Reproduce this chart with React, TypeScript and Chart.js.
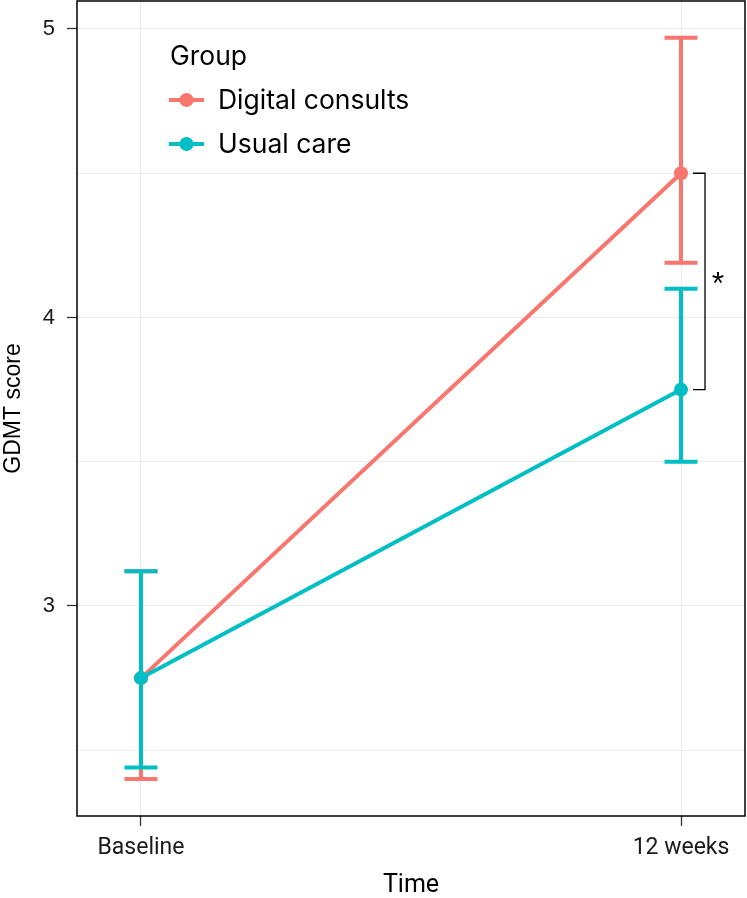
import React, { useEffect, useRef } from 'react';
import { Chart, registerables } from 'chart.js';

Chart.register(...registerables);

// ---- data ----
const timepoints = ['Baseline', '12 weeks'];
const groups = ['Digital consults', 'Usual care'];
const digitalMean = [2.75, 4.5];
const digitalLower = [2.40, 4.19];
const digitalUpper = [3.12, 4.97];
const usualMean = [2.75, 3.75];
const usualLower = [2.44, 3.50];
const usualUpper = [3.12, 4.10];
const yTickValues = [2.5, 3, 3.5, 4, 4.5, 5];
const yLabelledTicks = [3, 4, 5];
const legendTitle = 'Group';
const xTitle = 'Time';
const yTitle = 'GDMT score';
const significanceLabel = '*';

const COLORS = ['#F8766D', '#00BFC4'];
const GRID = '#EBEBEB';

const seriesMeans = [digitalMean, usualMean];
const seriesLower = [digitalLower, usualLower];
const seriesUpper = [digitalUpper, usualUpper];

export default function App() {
  const ref = useRef<HTMLCanvasElement | null>(null);

  useEffect(() => {
    const canvas = ref.current;
    if (!canvas) return;

    const errorBars = {
      id: 'errorBars',
      beforeDatasetsDraw(chart: any) {
        const { ctx, scales } = chart;
        const xs = scales.x;
        const ys = scales.y;
        ctx.save();
        ctx.lineWidth = 4;
        ctx.lineCap = 'butt';
        for (let g = 0; g < groups.length; g++) {
          ctx.strokeStyle = COLORS[g];
          for (let i = 0; i < timepoints.length; i++) {
            const x = xs.getPixelForValue(i);
            const yl = ys.getPixelForValue(seriesLower[g][i]);
            const yu = ys.getPixelForValue(seriesUpper[g][i]);
            ctx.beginPath();
            ctx.moveTo(x, yl);
            ctx.lineTo(x, yu);
            ctx.moveTo(x - 16.5, yl);
            ctx.lineTo(x + 16.5, yl);
            ctx.moveTo(x - 16.5, yu);
            ctx.lineTo(x + 16.5, yu);
            ctx.stroke();
          }
        }
        ctx.restore();
      },
    };

    const overlay = {
      id: 'overlay',
      afterDraw(chart: any) {
        const { ctx, scales, chartArea } = chart;
        const xs = scales.x;
        const ys = scales.y;
        ctx.save();
        // significance bracket
        const x12 = xs.getPixelForValue(1);
        const y1 = ys.getPixelForValue(digitalMean[1]);
        const y2 = ys.getPixelForValue(usualMean[1]);
        const bx = x12 + 24;
        ctx.strokeStyle = '#000';
        ctx.lineWidth = 1.3;
        ctx.beginPath();
        ctx.moveTo(x12 + 12, y1);
        ctx.lineTo(bx, y1);
        ctx.lineTo(bx, y2);
        ctx.lineTo(x12 + 12, y2);
        ctx.stroke();
        ctx.fillStyle = '#000';
        ctx.font = '32px "Liberation Sans"';
        ctx.textAlign = 'center';
        ctx.textBaseline = 'alphabetic';
        ctx.fillText(significanceLabel, bx + 13, (y1 + y2) / 2 + 13);

        // legend
        ctx.textAlign = 'left';
        ctx.textBaseline = 'middle';
        ctx.font = '26.5px Inter';
        ctx.fillStyle = '#000';
        ctx.fillText(legendTitle, 170, 57);
        const rows = [100, 144];
        for (let g = 0; g < groups.length; g++) {
          const y = rows[g];
          ctx.strokeStyle = COLORS[g];
          ctx.lineWidth = 4;
          ctx.beginPath();
          ctx.moveTo(169, y);
          ctx.lineTo(204, y);
          ctx.stroke();
          ctx.fillStyle = COLORS[g];
          ctx.beginPath();
          ctx.arc(186.5, y, 7, 0, Math.PI * 2);
          ctx.fill();
          ctx.fillStyle = '#000';
          ctx.fillText(groups[g], 218, y + 1);
        }

        // panel border
        ctx.strokeStyle = '#000';
        ctx.lineWidth = 1.5;
        ctx.strokeRect(chartArea.left, chartArea.top, chartArea.right - chartArea.left, chartArea.bottom - chartArea.top);
        ctx.restore();
      },
    };

    const datasets = groups.map((name, g) => ({
      label: name,
      data: timepoints.map((_, i) => ({ x: i, y: seriesMeans[g][i] })),
      borderColor: COLORS[g],
      backgroundColor: COLORS[g],
      pointBackgroundColor: COLORS[g],
      pointBorderWidth: 0,
      pointRadius: 7,
      pointHoverRadius: 7,
      borderWidth: 4,
      tension: 0,
      order: g === 0 ? 1 : 0,
    }));

    const chart = new Chart(canvas, {
      type: 'line',
      data: { datasets },
      options: {
        animation: false,
        responsive: false,
        maintainAspectRatio: false,
        layout: { autoPadding: false, padding: { top: 1, right: 2, left: 0, bottom: 0 } },
        plugins: { legend: { display: false }, tooltip: { enabled: false } },
        scales: {
          x: {
            type: 'linear',
            min: -0.1185,
            max: 1.1185,
            afterBuildTicks: (scale: any) => {
              scale.ticks = timepoints.map((_, i) => ({ value: i }));
            },
            afterFit: (scale: any) => {
              scale.height = 82;
              scale.paddingLeft = 0;
              scale.paddingRight = 0;
            },
            border: { display: false },
            grid: { color: GRID, lineWidth: 1, tickColor: '#333', tickLength: 10, tickWidth: 1.3 },
            ticks: {
              autoSkip: false,
              maxRotation: 0,
              padding: 8,
              color: '#1a1a1a',
              font: { family: 'Roboto', size: 23 },
              callback: (_v: any, i: number) => timepoints[i],
            },
            title: {
              display: true,
              text: xTitle,
              color: '#000',
              font: { family: 'Roboto', size: 25, lineHeight: 1.0 },
              padding: { top: 0, bottom: 0 },
            },
          },
          y: {
            type: 'linear',
            min: 2.272,
            max: 5.097,
            afterBuildTicks: (scale: any) => {
              scale.ticks = yTickValues.map((v) => ({ value: v }));
            },
            afterFit: (scale: any) => {
              scale.width = 77;
              scale.paddingTop = 0;
              scale.paddingBottom = 0;
            },
            border: { display: false },
            grid: {
              color: GRID,
              lineWidth: 1,
              tickLength: 10,
              tickWidth: 1.3,
              tickColor: (c: any) => (c.tick && yLabelledTicks.includes(c.tick.value) ? '#333' : 'rgba(0,0,0,0)'),
            },
            ticks: {
              autoSkip: false,
              padding: 12,
              color: '#1a1a1a',
              font: { family: 'Liberation Sans', size: 22 },
              callback: (v: any) => (yLabelledTicks.includes(Number(v)) ? String(v) : ''),
            },
            title: {
              display: true,
              text: yTitle,
              color: '#000',
              font: { family: 'Liberation Sans', size: 23, lineHeight: 1.2 },
              padding: { top: 0, bottom: 0 },
            },
          },
        },
      },
      plugins: [errorBars, overlay],
    } as any);

    return () => chart.destroy();
  }, []);

  return (
    <div style={{ position: 'absolute', left: 0, top: 0, width: 747, height: 898, background: '#fff' }}>
      <canvas ref={ref} width={747} height={898} style={{ display: 'block', width: 747, height: 898 }} />
    </div>
  );
}
